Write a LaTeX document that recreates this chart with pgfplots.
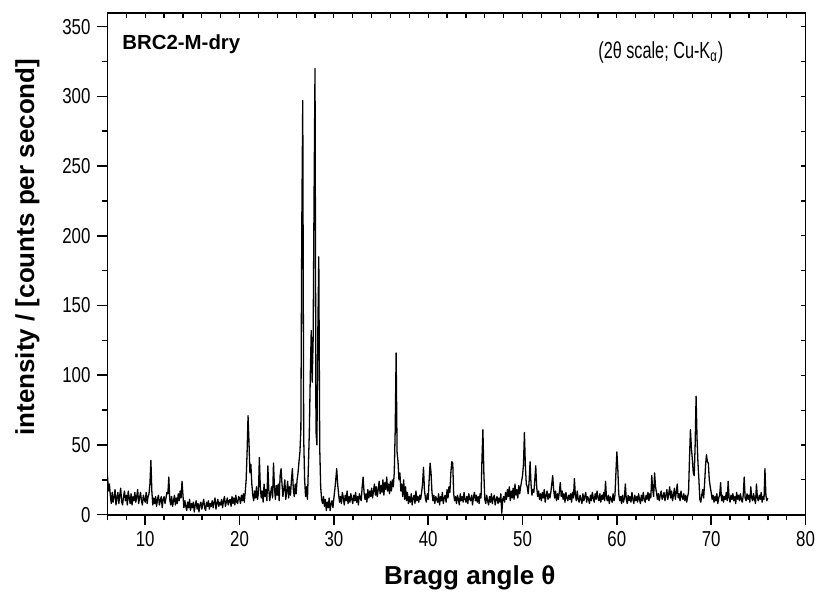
\documentclass[border=0pt]{standalone}
\usepackage{fontspec}
\setmainfont{Liberation Sans}
\newfontfamily\narrowfont[FakeStretch=0.78]{Liberation Sans}
\newfontfamily\narrowerfont[FakeStretch=0.7]{Liberation Sans}
\usepackage{pgfplots}
\pgfplotsset{compat=1.18}
\begin{document}
\begin{tikzpicture}
\path[use as bounding box] (-53.75pt,-41.5pt) rectangle (354.75pt,257.35pt);
\begin{axis}[
  scale only axis, width=349pt, height=251pt,
  xmin=6, xmax=80, ymin=0, ymax=360,
  xtick={10,20,...,80}, minor xtick={6,8,...,78},
  ytick={0,50,...,350}, minor ytick={25,75,...,325},
  xtick pos=left, ytick pos=left,
  tick align=outside,
  major tick length=5pt, minor tick length=2.8pt,
  every tick/.style={line width=0.8pt, black},
  axis line style={line width=0.9pt},
  tick label style={font=\narrowfont\fontsize{10.8}{12}\selectfont},
  /pgf/number format/assume math mode=true,
  xlabel={Bragg angle θ},
  ylabel={intensity / [counts per second]},
  xlabel style={font=\bfseries\fontsize{13}{15}\selectfont, at={(axis description cs:0.519,-0.1255)}, anchor=center},
  ylabel style={font=\bfseries\fontsize{13}{15}\selectfont, at={(axis description cs:-0.1146,0.533)}, anchor=center},
  clip=true,
]
\addplot[black, line width=0.65pt, line join=round, mark=none] coordinates {
(6.0,28)(6.1,17)(6.2,22)(6.3,14)(6.4,8)(6.5,16)(6.6,9)(6.7,13)(6.8,18)(6.9,7)
(7.0,12)(7.1,16)(7.2,8)(7.3,14)(7.4,19)(7.5,9)(7.6,7)(7.7,13)(7.8,17)(7.9,10)
(8.0,14)(8.1,7)(8.2,17)(8.3,12)(8.4,8)(8.5,15)(8.6,7)(8.7,13)(8.8,10)(8.9,16)
(9.0,9)(9.1,13)(9.2,18)(9.3,8)(9.4,12)(9.5,16)(9.6,10)(9.7,7)(9.8,14)(9.9,11)
(10.0,9)(10.1,16)(10.2,8)(10.3,13)(10.4,15)(10.5,22)(10.6,39)(10.7,17)(10.8,7)(10.9,12)
(11.0,8)(11.1,13)(11.2,6)(11.3,11)(11.4,14)(11.5,7)(11.6,10)(11.7,13)(11.8,5)(11.9,11)
(12.0,13)(12.1,8)(12.2,12)(12.3,16)(12.4,15)(12.5,27)(12.6,11)(12.7,7)(12.8,13)(12.9,6)
(13.0,10)(13.1,14)(13.2,7)(13.3,12)(13.4,8)(13.5,15)(13.6,10)(13.7,17)(13.8,12)(13.9,24)
(14.0,14)(14.1,5)(14.2,10)(14.3,6)(14.4,3)(14.5,9)(14.6,5)(14.7,11)(14.8,3)(14.9,8)
(15.0,5)(15.1,9)(15.2,2)(15.3,7)(15.4,10)(15.5,4)(15.6,8)(15.7,2)(15.8,7)(15.9,9)
(16.0,4)(16.1,8)(16.2,11)(16.3,5)(16.4,3)(16.5,9)(16.6,6)(16.7,10)(16.8,4)(16.9,8)
(17.0,6)(17.1,10)(17.2,5)(17.3,9)(17.4,12)(17.5,4)(17.6,8)(17.7,11)(17.8,6)(17.9,9)
(18.0,7)(18.1,11)(18.2,5)(18.3,10)(18.4,13)(18.5,6)(18.6,9)(18.7,12)(18.8,7)(18.9,10)
(19.0,11)(19.1,6)(19.2,13)(19.3,8)(19.4,12)(19.5,7)(19.6,14)(19.7,9)(19.8,8)(19.9,13)
(20.0,12)(20.1,8)(20.2,14)(20.3,10)(20.4,15)(20.5,9)(20.6,16)(20.7,25)(20.8,45)(20.9,71)
(21.0,52)(21.1,30)(21.2,36)(21.3,22)(21.4,14)(21.5,10)(21.6,17)(21.7,12)(21.8,20)(21.9,11)
(22.0,15)(22.1,41)(22.2,20)(22.3,12)(22.4,17)(22.5,9)(22.6,22)(22.7,13)(22.8,18)(22.9,10)
(23.0,35)(23.1,18)(23.2,10)(23.3,16)(23.4,20)(23.5,12)(23.6,37)(23.7,19)(23.8,11)(23.9,21)
(24.0,14)(24.1,22)(24.2,10)(24.3,28)(24.4,33)(24.5,22)(24.6,13)(24.7,19)(24.8,25)(24.9,11)
(25.0,17)(25.1,24)(25.2,12)(25.3,20)(25.4,14)(25.5,25)(25.6,33)(25.7,18)(25.8,13)(25.9,22)
(26.0,15)(26.1,25)(26.2,30)(26.3,38)(26.4,45)(26.5,61)(26.6,209)(26.7,297)(26.8,55)(26.9,25)
(27.0,13)(27.1,20)(27.2,11)(27.3,35)(27.4,60)(27.5,100)(27.6,132)(27.7,95)(27.8,125)(27.9,228)
(28.0,320)(28.1,60)(28.2,50)(28.3,132)(28.4,185)(28.5,48)(28.6,20)(28.7,11)(28.8,8)(28.9,13)
(29.0,6)(29.1,11)(29.2,3)(29.3,9)(29.4,5)(29.5,12)(29.6,3)(29.7,8)(29.8,10)(29.9,5)
(30.0,12)(30.1,18)(30.2,25)(30.3,33)(30.4,22)(30.5,15)(30.6,9)(30.7,13)(30.8,8)(30.9,16)
(31.0,12)(31.1,7)(31.2,14)(31.3,10)(31.4,17)(31.5,8)(31.6,13)(31.7,9)(31.8,15)(31.9,11)
(32.0,8)(32.1,14)(32.2,10)(32.3,16)(32.4,9)(32.5,13)(32.6,7)(32.7,15)(32.8,12)(32.9,10)
(33.0,20)(33.1,27)(33.2,16)(33.3,11)(33.4,15)(33.5,9)(33.6,18)(33.7,12)(33.8,17)(33.9,13)
(34.0,19)(34.1,12)(34.2,17)(34.3,22)(34.4,14)(34.5,20)(34.6,13)(34.7,18)(34.8,24)(34.9,15)
(35.0,21)(35.1,16)(35.2,25)(35.3,14)(35.4,23)(35.5,18)(35.6,27)(35.7,17)(35.8,22)(35.9,15)
(36.0,24)(36.1,17)(36.2,25)(36.3,20)(36.4,30)(36.5,60)(36.6,116)(36.7,45)(36.8,38)(36.9,25)
(37.0,30)(37.1,17)(37.2,22)(37.3,13)(37.4,25)(37.5,11)(37.6,20)(37.7,10)(37.8,16)(37.9,8)
(38.0,13)(38.1,9)(38.2,15)(38.3,7)(38.4,12)(38.5,14)(38.6,8)(38.7,17)(38.8,10)(38.9,13)
(39.0,9)(39.1,14)(39.2,11)(39.3,16)(39.4,22)(39.5,34)(39.6,18)(39.7,12)(39.8,9)(39.9,15)
(40.0,11)(40.1,25)(40.2,37)(40.3,30)(40.4,16)(40.5,10)(40.6,14)(40.7,8)(40.8,13)(40.9,11)
(41.0,9)(41.1,15)(41.2,7)(41.3,13)(41.4,10)(41.5,16)(41.6,8)(41.7,12)(41.8,14)(41.9,9)
(42.0,18)(42.1,12)(42.2,20)(42.3,16)(42.4,30)(42.5,38)(42.6,37)(42.7,15)(42.8,10)(42.9,13)
(43.0,8)(43.1,14)(43.2,11)(43.3,7)(43.4,15)(43.5,10)(43.6,13)(43.7,9)(43.8,16)(43.9,11)
(44.0,9)(44.1,13)(44.2,8)(44.3,15)(44.4,11)(44.5,10)(44.6,14)(44.7,7)(44.8,13)(44.9,16)
(45.0,10)(45.1,14)(45.2,9)(45.3,13)(45.4,8)(45.5,15)(45.6,12)(45.7,40)(45.8,61)(45.9,30)
(46.0,11)(46.1,8)(46.2,14)(46.3,10)(46.4,7)(46.5,13)(46.6,9)(46.7,15)(46.8,8)(46.9,12)
(47.0,14)(47.1,7)(47.2,11)(47.3,13)(47.4,8)(47.5,12)(47.6,9)(47.7,15)(47.8,1)(47.9,11)
(48.0,13)(48.1,9)(48.2,16)(48.3,11)(48.4,18)(48.5,13)(48.6,20)(48.7,10)(48.8,17)(48.9,12)
(49.0,19)(49.1,11)(49.2,22)(49.3,14)(49.4,18)(49.5,12)(49.6,21)(49.7,15)(49.8,20)(49.9,24)
(50.0,28)(50.1,36)(50.2,59)(50.3,35)(50.4,22)(50.5,20)(50.6,15)(50.7,24)(50.8,38)(50.9,22)
(51.0,14)(51.1,18)(51.2,16)(51.3,25)(51.4,35)(51.5,20)(51.6,13)(51.7,17)(51.8,11)(51.9,15)
(52.0,10)(52.1,16)(52.2,12)(52.3,18)(52.4,9)(52.5,14)(52.6,17)(52.7,11)(52.8,15)(52.9,12)
(53.0,16)(53.1,22)(53.2,28)(53.3,18)(53.4,12)(53.5,17)(53.6,10)(53.7,15)(53.8,11)(53.9,16)
(54.0,23)(54.1,13)(54.2,17)(54.3,11)(54.4,15)(54.5,9)(54.6,16)(54.7,12)(54.8,10)(54.9,14)
(55.0,11)(55.1,15)(55.2,9)(55.3,16)(55.4,12)(55.5,26)(55.6,14)(55.7,10)(55.8,17)(55.9,11)
(56.0,9)(56.1,14)(56.2,11)(56.3,8)(56.4,15)(56.5,10)(56.6,13)(56.7,16)(56.8,9)(56.9,13)
(57.0,11)(57.1,8)(57.2,14)(57.3,10)(57.4,16)(57.5,12)(57.6,9)(57.7,15)(57.8,11)(57.9,17)
(58.0,12)(58.1,10)(58.2,15)(58.3,9)(58.4,14)(58.5,11)(58.6,16)(58.7,10)(58.8,24)(58.9,12)
(59.0,10)(59.1,14)(59.2,8)(59.3,13)(59.4,11)(59.5,9)(59.6,15)(59.7,10)(59.8,14)(59.9,30)
(60.0,45)(60.1,33)(60.2,15)(60.3,10)(60.4,13)(60.5,8)(60.6,14)(60.7,9)(60.8,12)(60.9,22)
(61.0,11)(61.1,8)(61.2,14)(61.3,10)(61.4,13)(61.5,9)(61.6,16)(61.7,11)(61.8,8)(61.9,14)
(62.0,10)(62.1,13)(62.2,9)(62.3,15)(62.4,11)(62.5,8)(62.6,14)(62.7,10)(62.8,16)(62.9,11)
(63.0,9)(63.1,14)(63.2,11)(63.3,16)(63.4,10)(63.5,15)(63.6,12)(63.7,28)(63.8,18)(63.9,13)
(64.0,30)(64.1,20)(64.2,16)(64.3,11)(64.4,15)(64.5,10)(64.6,14)(64.7,17)(64.8,11)(64.9,13)
(65.0,16)(65.1,10)(65.2,14)(65.3,18)(65.4,11)(65.5,15)(65.6,20)(65.7,12)(65.8,17)(65.9,10)
(66.0,14)(66.1,19)(66.2,11)(66.3,16)(66.4,22)(66.5,12)(66.6,15)(66.7,10)(66.8,17)(66.9,13)
(67.0,11)(67.1,15)(67.2,10)(67.3,14)(67.4,9)(67.5,13)(67.6,16)(67.7,40)(67.8,61)(67.9,48)
(68.0,40)(68.1,30)(68.2,28)(68.3,50)(68.4,85)(68.5,55)(68.6,37)(68.7,25)(68.8,11)(68.9,9)
(69.0,14)(69.1,18)(69.2,12)(69.3,22)(69.4,35)(69.5,43)(69.6,38)(69.7,37)(69.8,25)(69.9,20)
(70.0,16)(70.1,11)(70.2,14)(70.3,9)(70.4,13)(70.5,10)(70.6,15)(70.7,8)(70.8,12)(70.9,14)
(71.0,23)(71.1,10)(71.2,14)(71.3,9)(71.4,13)(71.5,11)(71.6,16)(71.7,10)(71.8,24)(71.9,12)
(72.0,9)(72.1,14)(72.2,11)(72.3,15)(72.4,10)(72.5,13)(72.6,8)(72.7,16)(72.8,11)(72.9,14)
(73.0,10)(73.1,15)(73.2,11)(73.3,9)(73.4,14)(73.5,27)(73.6,12)(73.7,10)(73.8,15)(73.9,11)
(74.0,14)(74.1,9)(74.2,20)(74.3,12)(74.4,10)(74.5,15)(74.6,11)(74.7,8)(74.8,22)(74.9,12)
(75.0,10)(75.1,14)(75.2,11)(75.3,16)(75.4,9)(75.5,13)(75.6,11)(75.7,33)(75.8,14)(75.9,10)
(76.0,12)
};
\node[anchor=base west, inner sep=0pt, font=\bfseries\fontsize{10.2}{12}\selectfont] at (axis cs:7.54,333.4) {BRC2-M-dry};
\node[anchor=base west, inner sep=0pt, font=\narrowerfont\fontsize{11.6}{13}\selectfont] at (axis cs:58.0,327.5) {(2θ scale; Cu-K\textsubscript{α})};
\end{axis}
\begin{axis}[
  scale only axis, width=349pt, height=251pt,
  xmin=6, xmax=80, ymin=0, ymax=360,
  axis line style={draw=none},
  xtick={6,8,...,80}, ytick={0,25,...,350},
  xticklabels={}, yticklabels={},
  xtick pos=right, ytick pos=right,
  tick align=inside,
  major tick length=2.5pt,
  every tick/.style={line width=0.6pt, black},
]
\end{axis}
\end{tikzpicture}
\end{document}
